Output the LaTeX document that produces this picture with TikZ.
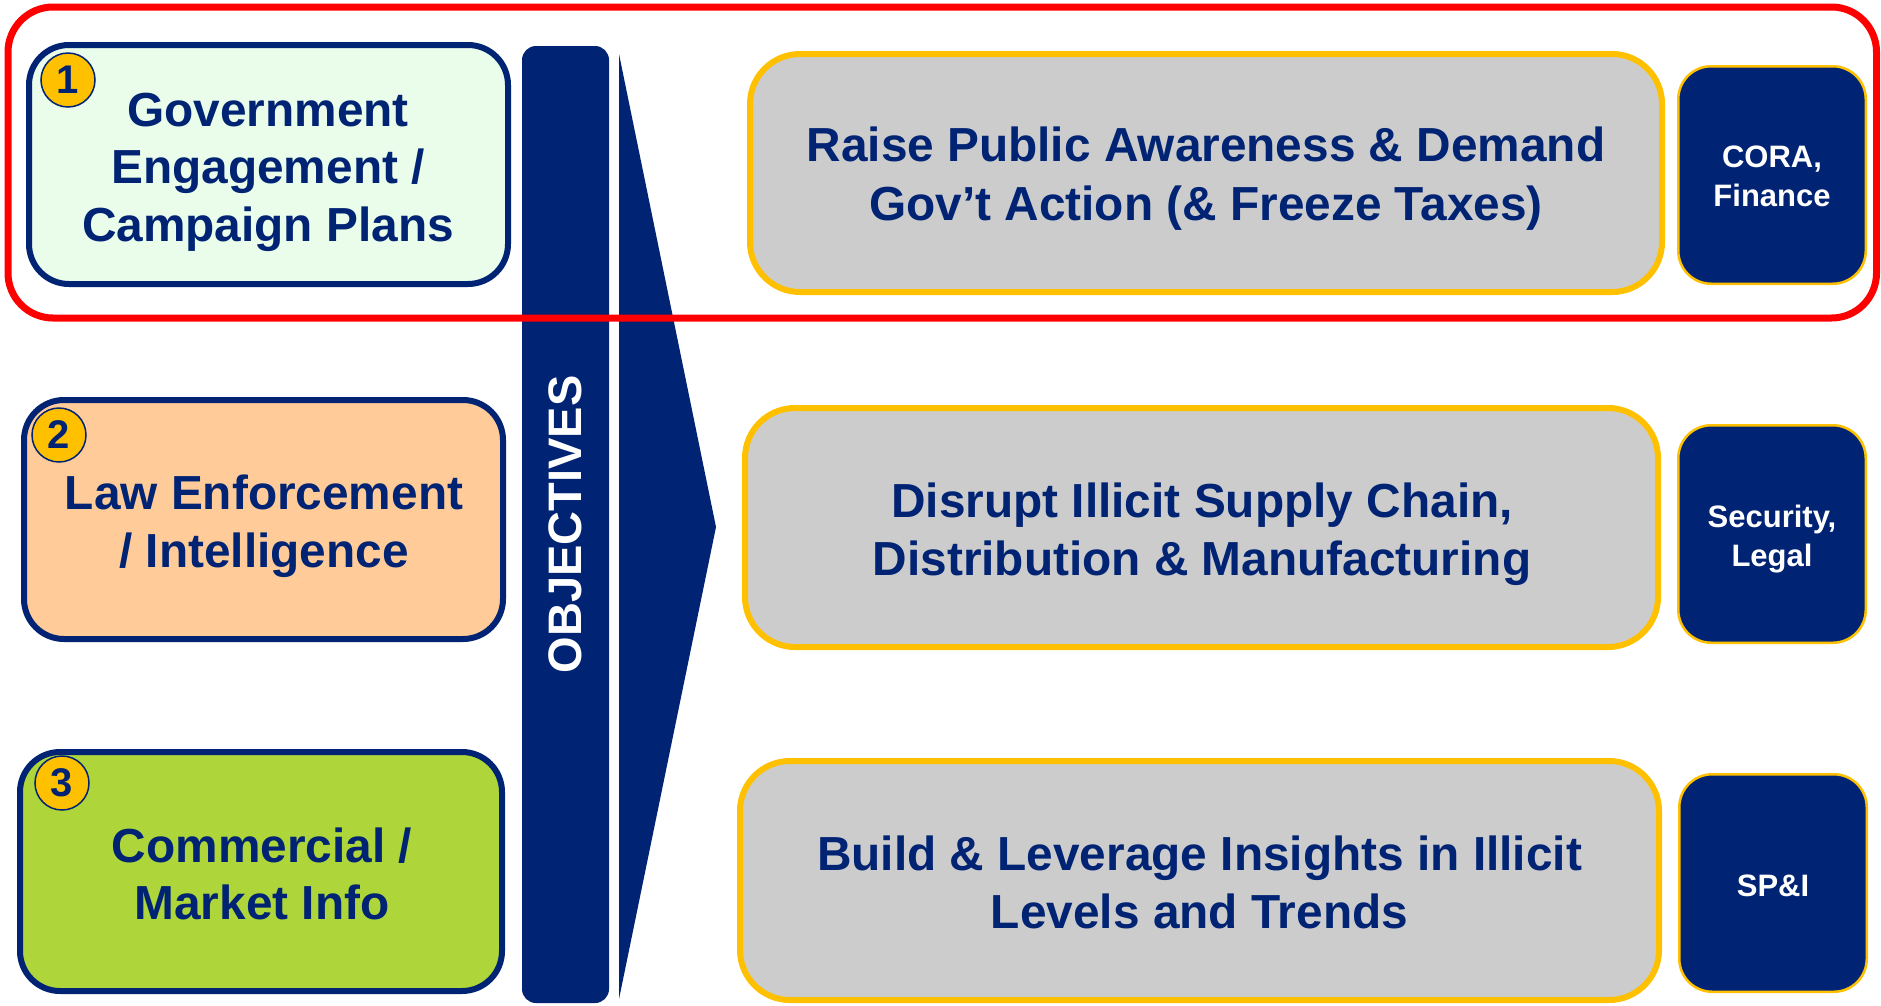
\documentclass[tikz,border=0pt]{standalone}
\usepackage{fontspec}
\setmainfont{Liberation Sans}
\definecolor{navy}{RGB}{0,35,115}
\definecolor{gold}{RGB}{255,192,0}
\definecolor{mint}{RGB}{234,252,234}
\definecolor{peach}{RGB}{255,204,153}
\definecolor{lime}{RGB}{174,214,58}
\definecolor{boxgray}{RGB}{204,204,204}
\begin{document}
\begin{tikzpicture}[x=1pt,y=-1pt,
  leftbox/.style={draw=navy, line width=6pt, rounded corners=40pt, inner sep=0pt, minimum width=479pt, minimum height=239pt},
  goalbox/.style={draw=gold, fill=boxgray, line width=6pt, rounded corners=50pt, inner sep=0pt, minimum height=239pt},
  ownerbox/.style={draw=gold, fill=navy, line width=2.5pt, rounded corners=33pt, inner sep=0pt, minimum width=187.5pt, minimum height=217.5pt},
  badge/.style={circle, draw=navy, line width=1.5pt, fill=gold, minimum size=54pt, inner sep=0pt, text=navy, font=\fontsize{40}{40}\selectfont\bfseries},
  bigtext/.style={anchor=base, align=center, text=navy, inner sep=0pt, font=\fontsize{47.8}{58}\selectfont\bfseries},
  smalltext/.style={anchor=base, align=center, text=white, inner sep=0pt, font=\fontsize{31}{39}\selectfont\bfseries}
]
\useasboundingbox (0,0) rectangle (1881,1005);
\fill[white] (0,0) rectangle (1881,1005);

% left boxes
\node[leftbox, fill=mint] (L1) at (268.5,164.5) {};
\node[leftbox, fill=peach] (L2) at (263.5,519.5) {};
\node[leftbox, fill=lime, minimum width=482pt] (L3) at (261,871.5) {};

% (base anchor = baseline of the last line)
\node[bigtext, font=\fontsize{47.8}{57.5}\selectfont\bfseries] (L1t) at (268,241) {Government\\Engagement /\\Campaign Plans};
\node[bigtext] (L2t) at (264,567) {Law Enforcement\\/ Intelligence};
\node[bigtext, font=\fontsize{47.8}{57}\selectfont\bfseries] (L3t) at (262,919) {Commercial /\\Market Info};

\node[badge] (b1) at (68,80) {1};
\node[badge] (b2) at (59,435) {2};
\node[badge] (b3) at (62,783) {3};

% objectives bar and arrow
\node[fill=navy, rounded corners=14pt, minimum width=87pt, minimum height=957pt, inner sep=0pt] (bar) at (565.5,524.5) {};
\node[rotate=90, text=white, font=\fontsize{47}{47}\selectfont\bfseries, inner sep=0pt] (obj) at (bar.center) {OBJECTIVES};
\fill[navy] (619,54) -- (716,527) -- (619,999) -- cycle;

% goal boxes
\node[goalbox, minimum width=912pt, minimum height=238pt] (R1) at (1206,173) {};
\node[goalbox, minimum width=913pt] (R2) at (1201.5,527.5) {};
\node[goalbox, minimum width=919pt] (R3) at (1199.5,880.5) {};

\node[bigtext, font=\fontsize{47.8}{59.5}\selectfont\bfseries] (R1t) at (1206,220.5) {Raise Public Awareness \& Demand\\Gov’t Action (\& Freeze Taxes)};
\node[bigtext] (R2t) at (1202,575) {Disrupt Illicit Supply Chain,\\Distribution \& Manufacturing};
\node[bigtext] (R3t) at (1199.5,928) {Build \& Leverage Insights in Illicit\\Levels and Trends};

% owner boxes
\node[ownerbox] (N1) at (1772,175) {};
\node[ownerbox] (N2) at (1772,534) {};
\node[ownerbox] (N3) at (1773,883) {};

\node[smalltext] (N1t) at (1772,206) {CORA,\\Finance};
\node[smalltext] (N2t) at (1772,566) {Security,\\Legal};
\node[smalltext] (N3t) at (1773,896) {SP\&I};

% red highlight frame
\node[draw=red, line width=7pt, rounded corners=45pt, minimum width=1868.5pt, minimum height=311pt, inner sep=0pt] (focus) at (942.25,162.5) {};
\end{tikzpicture}
\end{document}
